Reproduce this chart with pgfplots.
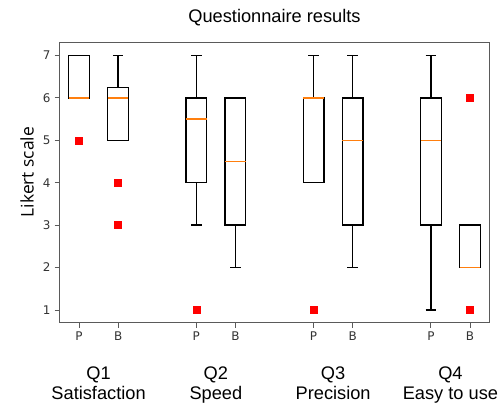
\documentclass[border=0pt]{standalone}
\usepackage{pgfplots}
\pgfplotsset{compat=1.18}
\usepgfplotslibrary{statistics}
\usetikzlibrary{calc}
\usepackage{fontspec}
\setmainfont{Liberation Sans}
\newfontfamily\dejavu{DejaVu Sans}
\newfontfamily\opensans{Open Sans}
\definecolor{axisgray}{RGB}{90,90,90}
\definecolor{medorange}{RGB}{255,127,14}
\begin{document}
\begin{tikzpicture}
\begin{axis}[
  scale only axis, width=430bp, height=280bp,
  xmin=0.5, xmax=11.5, ymin=0.7, ymax=7.3,
  xtick={1,2,4,5,7,8,10,11}, xticklabels={P,B,P,B,P,B,P,B},
  ytick={1,2,3,4,5,6,7}, yticklabels={1,2,3,4,5,6,7},
  tick pos=left, tick align=outside, major tick length=5bp,
  tick style={color=axisgray, line width=0.9bp},
  axis line style={color=axisgray, line width=1.3bp},
  tick label style={font=\dejavu\fontsize{12}{14}\selectfont, color=black!80},
  xticklabel style={yshift=-1bp},
  yticklabel style={xshift=-0.5bp},
  clip=false,
  boxplot/draw direction=y,
  boxplot/every box/.style={draw=black, line width=1.4bp},
  boxplot/every whisker/.style={draw=black, line width=1.4bp},
  boxplot/every median/.style={draw=medorange, line width=1.5bp},
  boxplot/draw/.code={%
    \draw[/pgfplots/boxplot/every box/.try] (boxplot box cs:\pgfplotsboxplotvalue{lower quartile},0) rectangle (boxplot box cs:\pgfplotsboxplotvalue{upper quartile},1);
    \draw[/pgfplots/boxplot/every whisker/.try] (boxplot cs:\pgfplotsboxplotvalue{lower whisker}) -- (boxplot cs:\pgfplotsboxplotvalue{lower quartile});
    \draw[/pgfplots/boxplot/every whisker/.try] (boxplot cs:\pgfplotsboxplotvalue{upper quartile}) -- (boxplot cs:\pgfplotsboxplotvalue{upper whisker});
    \draw[/pgfplots/boxplot/every whisker/.try] (boxplot whisker cs:\pgfplotsboxplotvalue{lower whisker},0) -- (boxplot whisker cs:\pgfplotsboxplotvalue{lower whisker},1);
    \draw[/pgfplots/boxplot/every whisker/.try] (boxplot whisker cs:\pgfplotsboxplotvalue{upper whisker},0) -- (boxplot whisker cs:\pgfplotsboxplotvalue{upper whisker},1);
    \draw[/pgfplots/boxplot/every median/.try] (boxplot box cs:\pgfplotsboxplotvalue{median},0) -- (boxplot box cs:\pgfplotsboxplotvalue{median},1);
  },
  every axis plot/.append style={solid, mark=square*, mark size=3.5bp, mark options={fill=red, draw=red}},
]
% Q1 P
\addplot[boxplot prepared={draw position=1, lower whisker=6, lower quartile=6, median=6, upper quartile=7, upper whisker=7, box extend=0.53, whisker extend=0.27}]
  table[row sep=\\, y index=0] {data\\ 5\\};
% Q1 B
\addplot[boxplot prepared={draw position=2, lower whisker=5, lower quartile=5, median=6, upper quartile=6.25, upper whisker=7, box extend=0.53, whisker extend=0.27}]
  table[row sep=\\, y index=0] {data\\ 4\\ 3\\};
% Q2 P
\addplot[boxplot prepared={draw position=4, lower whisker=3, lower quartile=4, median=5.5, upper quartile=6, upper whisker=7, box extend=0.53, whisker extend=0.27}]
  table[row sep=\\, y index=0] {data\\ 1\\};
% Q2 B
\addplot[boxplot prepared={draw position=5, lower whisker=2, lower quartile=3, median=4.5, upper quartile=6, upper whisker=6, box extend=0.53, whisker extend=0.27}]
  coordinates {};
% Q3 P
\addplot[boxplot prepared={draw position=7, lower whisker=4, lower quartile=4, median=6, upper quartile=6, upper whisker=7, box extend=0.53, whisker extend=0.27}]
  table[row sep=\\, y index=0] {data\\ 1\\};
% Q3 B
\addplot[boxplot prepared={draw position=8, lower whisker=2, lower quartile=3, median=5, upper quartile=6, upper whisker=7, box extend=0.53, whisker extend=0.27}]
  coordinates {};
% Q4 P
\addplot[boxplot prepared={draw position=10, lower whisker=1, lower quartile=3, median=5, upper quartile=6, upper whisker=7, box extend=0.53, whisker extend=0.27}]
  coordinates {};
% Q4 B
\addplot[boxplot prepared={draw position=11, lower whisker=2, lower quartile=2, median=2, upper quartile=3, upper whisker=3, box extend=0.53, whisker extend=0.27}]
  table[row sep=\\, y index=0] {data\\ 6\\ 1\\};

\coordinate (bl) at (axis description cs:0,0);
\coordinate (tr) at (axis description cs:1,1);
\node[anchor=base, font=\fontsize{18.3}{22}\selectfont, yshift=20.7bp] at (axis description cs:0.5,1) {Questionnaire results};
\node[xshift=-26bp, anchor=base, rotate=90, font=\opensans\fontsize{17.5}{21}\selectfont] at (axis description cs:0,0.538) {Likert scale};
\node[anchor=base, font=\fontsize{18.3}{22}\selectfont, yshift=-56.3bp] at (axis cs:1.5,0.7) {Q1};
\node[anchor=base, font=\fontsize{18.3}{22}\selectfont, yshift=-76.6bp] at (axis cs:1.5,0.7) {Satisfaction};
\node[anchor=base, font=\fontsize{18.3}{22}\selectfont, yshift=-56.3bp] at (axis cs:4.5,0.7) {Q2};
\node[anchor=base, font=\fontsize{18.3}{22}\selectfont, yshift=-76.6bp] at (axis cs:4.5,0.7) {Speed};
\node[anchor=base, font=\fontsize{18.3}{22}\selectfont, yshift=-56.3bp] at (axis cs:7.5,0.7) {Q3};
\node[anchor=base, font=\fontsize{18.3}{22}\selectfont, yshift=-76.6bp] at (axis cs:7.5,0.7) {Precision};
\node[anchor=base, font=\fontsize{18.3}{22}\selectfont, yshift=-56.3bp] at (axis cs:10.5,0.7) {Q4};
\node[anchor=base, font=\fontsize{18.3}{22}\selectfont, yshift=-76.6bp] at (axis cs:10.5,0.7) {Easy to use};
\end{axis}
\pgfresetboundingbox
\useasboundingbox ($(bl)+(-59.5bp,-86.3bp)$) rectangle ($(tr)+(11.5bp,42.7bp)$);
\end{tikzpicture}
\end{document}
